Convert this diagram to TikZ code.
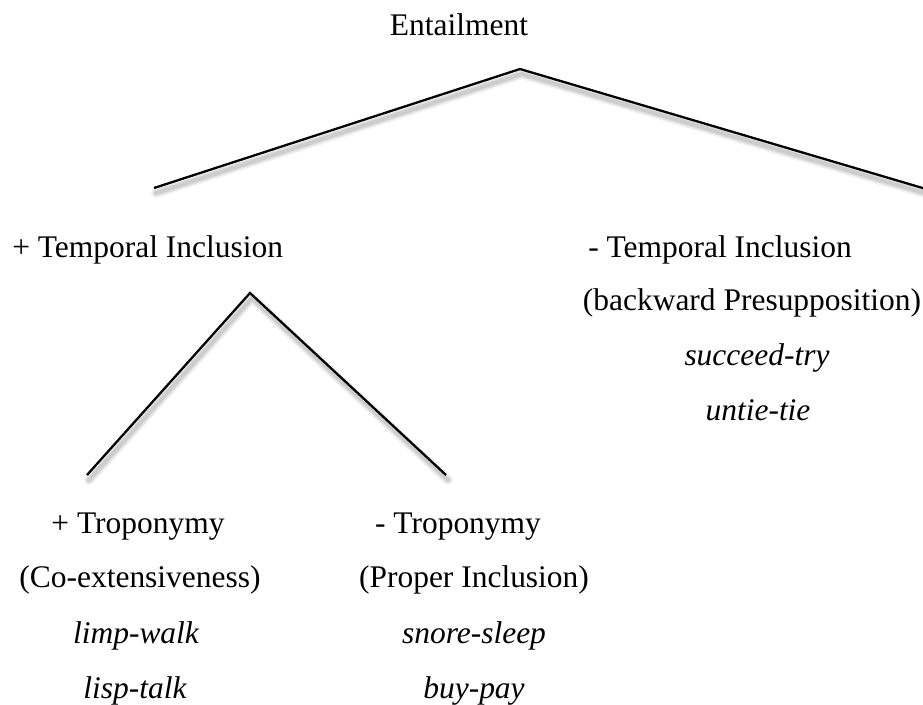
\documentclass[tikz,border=0pt]{standalone}
\usepackage{fontspec}
\setmainfont{Liberation Serif}
\usetikzlibrary{calc}
\begin{document}
\begin{tikzpicture}[x=0.75pt,y=-0.75pt,
  label/.style={inner sep=0pt,anchor=base,font=\fontsize{23.6}{28}\selectfont},
  example/.style={label,font=\fontsize{23.6}{28}\selectfont\itshape},
  branch/.style={line width=1.7pt,line join=miter,black},
  haze/.style={line join=round,line cap=round,black}]
\useasboundingbox (0,0) rectangle (923,704);

% root and its two branches
\node[label] (root) at (459,35.5) {Entailment};
\coordinate (rtop) at (520,69);
\coordinate (rleft) at (154,188);
\coordinate (rright) at (926,189);

% + temporal inclusion subtree
\node[label,anchor=base west] (tplus) at (12,257) {+ Temporal Inclusion};
\coordinate (stop) at (250,293);
\coordinate (sleft) at (87,475);
\coordinate (sright) at (446,475);

% - temporal inclusion
\node[label,anchor=base west] (tminus) at (588,257) {- Temporal Inclusion};
\node[label] (backw) at (752,310.5) {(backward Presupposition)};
\node[example] (succ) at (757,365.5) {succeed-try};
\node[example] (untie) at (758,420.5) {untie-tie};

% troponymy leaves
\node[label] (trplus) at (138,533) {+ Troponymy};
\node[label] (coext) at (140,587.5) {(Co-extensiveness)};
\node[example] (limp) at (136,643) {limp-walk};
\node[example] (lisp) at (135,698) {lisp-talk};

\node[label] (trminus) at (458,533) {- Troponymy};
\node[label] (proper) at (474,587.5) {(Proper Inclusion)};
\node[example] (snore) at (474,643) {snore-sleep};
\node[example] (buy) at (474,698) {buy-pay};

% soft drop shadows under the branches
\foreach \w/\o in {10/0.05,7/0.07,4/0.09}{
  \draw[haze,line width=\w*0.75pt,opacity=\o]
    ([shift={(2,5)}]rleft) -- ([shift={(2,5)}]rtop) -- ([shift={(2,5)}]rright);
  \draw[haze,line width=\w*0.75pt,opacity=\o]
    ([shift={(2,5)}]sleft) -- ([shift={(2,5)}]stop) -- ([shift={(2,5)}]sright);
}

% branches
\draw[branch] (rleft) -- (rtop) -- (rright);
\draw[branch] (sleft) -- (stop) -- (sright);
\end{tikzpicture}
\end{document}
